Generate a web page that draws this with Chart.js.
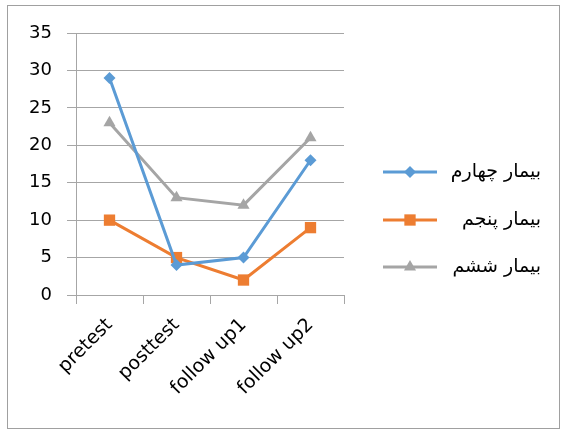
<!DOCTYPE html>
<html>
<head>
<meta charset="utf-8">
<script src="https://cdn.jsdelivr.net/npm/chart.js@4"></script>
<style>
  html, body { margin: 0; padding: 0; background: #fff; }
  #wrap { position: absolute; left: 0; top: 0; width: 568px; height: 434px; }
  #frame { position: absolute; left: 7px; top: 5px; width: 553px; height: 424px; border: 1px solid #a0a0a0; box-sizing: border-box; pointer-events: none; }
</style>
</head>
<body>
<div id="wrap">
  <canvas id="myChart" width="568" height="434"></canvas>
  <div id="frame"></div>
</div>
<script>
var categories = ["pretest", "posttest", "follow up1", "follow up2"];
var seriesNames = ["بیمار چهارم", "بیمار پنجم", "بیمار ششم"];
var patient4 = [29, 4, 5, 18];
var patient5 = [10, 5, 2, 9];
var patient6 = [23, 13, 12, 21];
var yTicks = [0, 5, 10, 15, 20, 25, 30, 35];

/* legend drawn on the right: line with marker, then the name */
var sideLegend = {
  id: 'sideLegend',
  afterDraw: function(chart) {
    var c = chart.ctx;
    var rows = [172, 220, 267];
    chart.data.datasets.forEach(function(ds, i) {
      var y = rows[i];
      c.save();
      c.strokeStyle = ds.borderColor;
      c.lineWidth = 3;
      c.beginPath();
      c.moveTo(383, y);
      c.lineTo(437, y);
      c.stroke();
      c.fillStyle = ds.pointBackgroundColor;
      c.strokeStyle = ds.pointBackgroundColor;
      Chart.helpers.drawPoint(c, {pointStyle: ds.pointStyle, radius: ds.pointRadius, borderWidth: 0, rotation: 0}, 410, y);
      c.fillStyle = '#000';
      c.font = '19px "DejaVu Sans"';
      c.textBaseline = 'middle';
      c.direction = 'rtl';
      c.textAlign = 'right';
      c.fillText(ds.label, 541, y);
      c.restore();
    });
  }
};

var ctx = document.getElementById('myChart').getContext('2d');
var myChart = new Chart(ctx, {
  type: 'line',
  plugins: [sideLegend],
  data: {
    labels: categories,
    datasets: [{
      label: seriesNames[0],
      data: patient4,
      borderColor: '#5B9BD5',
      pointBackgroundColor: '#5B9BD5',
      pointStyle: 'rectRot',
      pointRadius: 6
    }, {
      label: seriesNames[1],
      data: patient5,
      borderColor: '#ED7D31',
      pointBackgroundColor: '#ED7D31',
      pointStyle: 'rect',
      pointRadius: 8
    }, {
      label: seriesNames[2],
      data: patient6,
      borderColor: '#A5A5A5',
      pointBackgroundColor: '#A5A5A5',
      pointStyle: 'triangle',
      pointRadius: 7
    }]
  },
  options: {
    responsive: false,
    animation: false,
    devicePixelRatio: 1,
    layout: { padding: { left: 0, right: 224, top: 33, bottom: 0 } },
    elements: {
      line: { borderWidth: 3, tension: 0 },
      point: { borderWidth: 0 }
    },
    plugins: {
      legend: { display: false },
      tooltip: { enabled: false }
    },
    scales: {
      x: {
        offset: true,
        afterFit: function(axis) { axis.height = 139; },
        grid: { display: true, drawOnChartArea: false, offset: true, tickLength: 9, color: '#a6a6a6' },
        border: { color: '#a6a6a6', width: 1 },
        ticks: {
          maxRotation: 45, minRotation: 45,
          color: '#000',
          font: { family: 'DejaVu Sans', size: 19 },
          padding: 10
        }
      },
      y: {
        min: 0, max: 35,
        afterFit: function(axis) { axis.width = 76; },
        afterBuildTicks: function(axis) {
          axis.ticks = yTicks.map(function(v) { return {value: v}; });
        },
        grid: { color: '#a6a6a6', lineWidth: 1, tickLength: 9 },
        border: { color: '#a6a6a6', width: 1 },
        ticks: {
          color: '#000',
          font: { family: 'DejaVu Sans', size: 18 },
          padding: 15
        }
      }
    }
  }
});
</script>
</body>
</html>
